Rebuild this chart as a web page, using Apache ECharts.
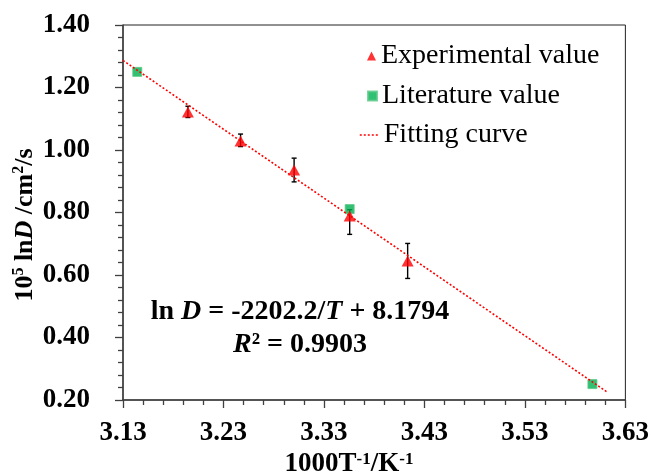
<!DOCTYPE html>
<html><head><meta charset="utf-8">
<script src="https://cdn.jsdelivr.net/npm/echarts@6/dist/echarts.min.js"></script>
<style>html,body{margin:0;padding:0;background:#fff}#c{width:652px;height:474px}</style>
</head><body><div id="c"></div>
<script>
// ---- data ----
const expX = [3.1946, 3.2470, 3.3003, 3.3556, 3.4133];
const expY = [1.122, 1.029, 0.936, 0.789, 0.645];
const expErrPlus  = [0.018, 0.022, 0.038, 0.020, 0.056];
const expErrMinus = [0.018, 0.018, 0.038, 0.059, 0.056];
const litX = [3.1442, 3.3556, 3.5972];
const litY = [1.250, 0.811, 0.251];
const fitX = [3.13, 3.612];
const fitY = [1.2866, 0.2252];
const xTickLabels = ['3.13', '3.23', '3.33', '3.43', '3.53', '3.63'];
const yTickLabels = ['0.20', '0.40', '0.60', '0.80', '1.00', '1.20', '1.40'];
const seriesNames = ['Experimental value', 'Literature value', 'Fitting curve'];

const FONT = '"Liberation Serif", "Times New Roman", "DejaVu Serif", serif';
const chart = echarts.init(document.getElementById('c'), null, {renderer: 'canvas'});

const expData = expX.map((x, i) => [x, expY[i]]);
const errData = expX.map((x, i) => [x, expY[i], expY[i] - expErrMinus[i], expY[i] + expErrPlus[i]]);
const litData = litX.map((x, i) => [x, litY[i]]);
const fitData = fitX.map((x, i) => [x, fitY[i]]);

const legendText = {fontFamily: FONT, fontSize: 28, color: '#000', lineHeight: 30};

const option = {
  backgroundColor: '#fff',
  animation: false,
  grid: {left: 123, right: 26, top: 25, bottom: 74, show: true, borderColor: '#222', borderWidth: 1, containLabel: false},
  xAxis: {
    type: 'value', min: 3.13, max: 3.63, interval: 0.1,
    axisLine: {show: true, onZero: false, lineStyle: {color: '#404040', width: 1.5}},
    axisTick: {show: true, inside: false, length: 8, lineStyle: {color: '#404040', width: 1.3}},
    minorTick: {show: true, splitNumber: 5, length: 5, lineStyle: {color: '#404040', width: 1.3}},
    splitLine: {show: false},
    axisLabel: {margin: 20, fontFamily: FONT, fontWeight: 'bold', fontSize: 27, color: '#000',
      formatter: (v, i) => xTickLabels[i] !== undefined ? xTickLabels[i] : v.toFixed(2)}
  },
  yAxis: {
    type: 'value', min: 0.2, max: 1.4, interval: 0.2,
    axisLine: {show: true, onZero: false, lineStyle: {color: '#404040', width: 1.5}},
    axisTick: {show: true, inside: false, length: 8, lineStyle: {color: '#404040', width: 1.3}},
    minorTick: {show: true, splitNumber: 5, length: 5, lineStyle: {color: '#404040', width: 1.3}},
    splitLine: {show: false},
    axisLabel: {margin: 33, fontFamily: FONT, fontWeight: 'bold', fontSize: 27, color: '#000',
      formatter: (v, i) => yTickLabels[i] !== undefined ? yTickLabels[i] : v.toFixed(2)}
  },
  legend: [
    {data: [{name: seriesNames[0], icon: 'triangle'}], orient: 'vertical', left: 362, top: 36,
      itemWidth: 9, itemHeight: 9, textStyle: legendText, selectedMode: false},
    {data: [{name: seriesNames[1], icon: 'rect'}], orient: 'vertical', left: 362, top: 76,
      itemWidth: 9, itemHeight: 9, textStyle: legendText, selectedMode: false},
    {data: [{name: seriesNames[2]}], orient: 'vertical', left: 354, top: 115,
      itemWidth: 19, itemHeight: 6, textStyle: legendText, selectedMode: false,
      itemStyle: {opacity: 0}, lineStyle: {color: '#FF0000', width: 1.6, type: [2, 2]}}
  ],
  series: [
    {
      type: 'custom', name: 'err', z: 1, silent: true,
      data: errData, encode: {x: 0, y: [1, 2, 3]},
      renderItem: function (params, api) {
        const x = api.value(0), lo = api.value(2), hi = api.value(3);
        const pHi = api.coord([x, hi]), pLo = api.coord([x, lo]);
        const cap = 2.5;
        const st = {stroke: '#000', lineWidth: 1.4};
        return {type: 'group', children: [
          {type: 'line', shape: {x1: pHi[0], y1: pHi[1], x2: pLo[0], y2: pLo[1]}, style: st},
          {type: 'line', shape: {x1: pHi[0] - cap, y1: pHi[1], x2: pHi[0] + cap, y2: pHi[1]}, style: st},
          {type: 'line', shape: {x1: pLo[0] - cap, y1: pLo[1], x2: pLo[0] + cap, y2: pLo[1]}, style: st}
        ]};
      }
    },
    {
      type: 'scatter', name: seriesNames[1], z: 2, data: litData,
      symbol: 'rect', symbolSize: 9,
      itemStyle: {color: '#00B050', borderColor: '#5ACB86', borderWidth: 1}
    },
    {
      type: 'line', name: seriesNames[2], z: 3, data: fitData,
      symbol: 'none', showSymbol: false,
      lineStyle: {color: '#FF0000', width: 1.6, type: [2, 2]},
      itemStyle: {color: '#FF0000'}
    },
    {
      type: 'scatter', name: seriesNames[0], z: 4, data: expData,
      symbol: 'triangle', symbolSize: [12, 11],
      itemStyle: {color: '#FF0000'}
    }
  ],
  graphic: [
    {type: 'text', x: 23, y: 225, rotation: Math.PI / 2,
      style: {
        text: '{b|10}{s|5}{b| ln}{i|D}{b| /cm}{s|2}{b|/s}',
        textAlign: 'center', textVerticalAlign: 'middle',
        rich: {
          b: {fontFamily: FONT, fontWeight: 'bold', fontSize: 26, fill: '#000', lineHeight: 30, verticalAlign: 'bottom'},
          i: {fontFamily: FONT, fontWeight: 'bold', fontStyle: 'italic', fontSize: 26, fill: '#000', lineHeight: 30, verticalAlign: 'bottom'},
          s: {fontFamily: FONT, fontWeight: 'bold', fontSize: 16, fill: '#000', lineHeight: 30, verticalAlign: 'top', padding: [3, 0, 0, 0]}
        }
      }},
    {type: 'text', x: 349, y: 463,
      style: {
        text: '{b|1000T}{s|-1}{b|/K}{s|-1}',
        textAlign: 'center', textVerticalAlign: 'middle',
        rich: {
          b: {fontFamily: FONT, fontWeight: 'bold', fontSize: 27, fill: '#000', lineHeight: 30, verticalAlign: 'bottom'},
          s: {fontFamily: FONT, fontWeight: 'bold', fontSize: 17, fill: '#000', lineHeight: 30, verticalAlign: 'top', padding: [3, 0, 0, 0]}
        }
      }},
    {type: 'text', x: 300, y: 312,
      style: {
        text: '{b|ln }{i|D}{b| = -2202.2/}{i|T}{b| + 8.1794}',
        textAlign: 'center', textVerticalAlign: 'middle',
        rich: {
          b: {fontFamily: FONT, fontWeight: 'bold', fontSize: 28, fill: '#000'},
          i: {fontFamily: FONT, fontWeight: 'bold', fontStyle: 'italic', fontSize: 28, fill: '#000'}
        }
      }},
    {type: 'text', x: 300, y: 345,
      style: {
        text: '{i|R}{b|² = 0.9903}',
        textAlign: 'center', textVerticalAlign: 'middle',
        rich: {
          b: {fontFamily: FONT, fontWeight: 'bold', fontSize: 28, fill: '#000'},
          i: {fontFamily: FONT, fontWeight: 'bold', fontStyle: 'italic', fontSize: 28, fill: '#000'}
        }
      }}
  ]
};
chart.setOption(option);
</script>
</body></html>
